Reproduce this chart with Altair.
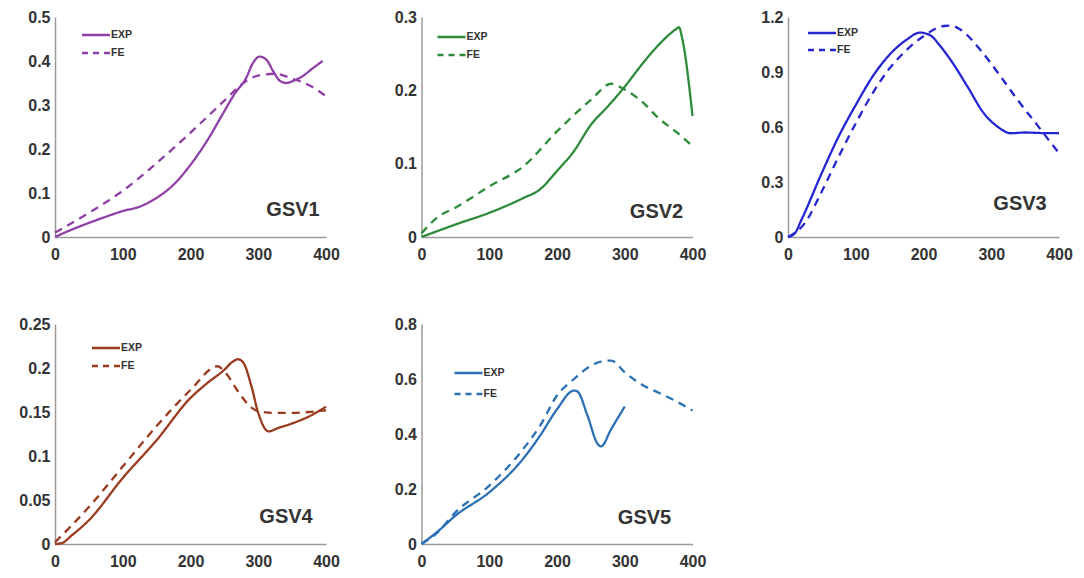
import altair as alt
import pandas as pd

# ---- data ----
exp1_x = [0, 25, 50, 75, 100, 125, 150, 175, 200, 225, 250, 265, 282, 292, 302, 312, 322, 332, 342, 352, 365, 380, 395]
exp1_y = [0, 0.017, 0.032, 0.046, 0.059, 0.069, 0.089, 0.119, 0.164, 0.22, 0.286, 0.325, 0.361, 0.395, 0.41, 0.403, 0.377, 0.355, 0.35, 0.355, 0.365, 0.383, 0.40]
fe1_x = [0, 50, 100, 150, 200, 250, 280, 300, 325, 350, 375, 400]
fe1_y = [0.01, 0.055, 0.105, 0.168, 0.237, 0.31, 0.352, 0.367, 0.371, 0.36, 0.345, 0.32]

exp2_x = [0, 50, 100, 150, 175, 200, 225, 250, 275, 300, 325, 350, 375, 380, 385, 400]
exp2_y = [0, 0.017, 0.033, 0.053, 0.065, 0.09, 0.117, 0.153, 0.178, 0.205, 0.235, 0.262, 0.283, 0.286, 0.27, 0.165]
fe2_x = [0, 25, 50, 100, 150, 200, 250, 280, 300, 325, 350, 375, 400]
fe2_y = [0.005, 0.028, 0.04, 0.069, 0.096, 0.144, 0.187, 0.209, 0.201, 0.185, 0.162, 0.144, 0.124]

exp3_x = [0, 10, 20, 50, 75, 100, 125, 150, 175, 195, 210, 225, 240, 265, 289, 310, 329, 350, 375, 400]
exp3_y = [0, 0.02, 0.095, 0.35, 0.55, 0.72, 0.876, 0.995, 1.076, 1.115, 1.10, 1.04, 0.966, 0.82, 0.675, 0.6, 0.566, 0.57, 0.567, 0.566]
fe3_x = [0, 25, 50, 75, 100, 125, 150, 175, 200, 230, 240, 255, 284, 314, 339, 368, 383, 400]
fe3_y = [0, 0.076, 0.25, 0.44, 0.62, 0.785, 0.92, 1.02, 1.095, 1.151, 1.153, 1.13, 1.02, 0.875, 0.747, 0.61, 0.538, 0.457]

exp4_x = [0, 10, 25, 50, 100, 150, 200, 225, 250, 262, 270, 278, 290, 300, 315, 330, 350, 375, 400]
exp4_y = [0, 0.001, 0.01, 0.027, 0.075, 0.118, 0.166, 0.183, 0.198, 0.207, 0.21, 0.206, 0.179, 0.149, 0.128, 0.132, 0.137, 0.145, 0.156]
fe4_x = [0, 50, 100, 150, 200, 240, 250, 275, 290, 300, 325, 350, 375, 400]
fe4_y = [0.002, 0.042, 0.088, 0.134, 0.175, 0.202, 0.196, 0.168, 0.155, 0.151, 0.149, 0.149, 0.15, 0.152]

exp5_x = [0, 25, 50, 100, 150, 175, 200, 225, 230, 245, 260, 265, 280, 300]
exp5_y = [0, 0.048, 0.103, 0.188, 0.31, 0.394, 0.49, 0.558, 0.555, 0.467, 0.364, 0.355, 0.418, 0.5]
fe5_x = [0, 25, 50, 100, 150, 175, 200, 225, 250, 275, 280, 300, 325, 350, 375, 400]
fe5_y = [0, 0.045, 0.115, 0.212, 0.345, 0.43, 0.54, 0.6, 0.648, 0.667, 0.667, 0.624, 0.58, 0.55, 0.52, 0.485]

series_names = ["EXP", "FE"]
panel_titles = ["GSV1", "GSV2", "GSV3", "GSV4", "GSV5"]
panel_colors = ["#8f40a6", "#2e8b3a", "#2626d0", "#9a3a1f", "#2b70b4"]
y_maxes = [0.5, 0.3, 1.2, 0.25, 0.8]
y_ticks = [
    [0, 0.1, 0.2, 0.3, 0.4, 0.5],
    [0, 0.1, 0.2, 0.3],
    [0, 0.3, 0.6, 0.9, 1.2],
    [0, 0.05, 0.1, 0.15, 0.2, 0.25],
    [0, 0.2, 0.4, 0.6, 0.8],
]
x_ticks = [0, 100, 200, 300, 400]

panel_data = [
    (exp1_x, exp1_y, fe1_x, fe1_y),
    (exp2_x, exp2_y, fe2_x, fe2_y),
    (exp3_x, exp3_y, fe3_x, fe3_y),
    (exp4_x, exp4_y, fe4_x, fe4_y),
    (exp5_x, exp5_y, fe5_x, fe5_y),
]

# legend placement (pixels inside each plot) and label placement
legend_pos = [(27, 18, 18), (16, 20, 18), (20, 16, 17), (37, 24, 18), (33, 49, 21)]
label_pos = [(238, 193), (235, 195), (232, 187), (231, 193), (223, 194)]

W, H = 271, 220
FONT = "Liberation Sans"
DASH = [8, 6]


def panel(i):
    ex, ey, fx, fy = panel_data[i]
    color = panel_colors[i]
    df = pd.DataFrame({
        "x": list(ex) + list(fx),
        "y": list(ey) + list(fy),
        "series": [series_names[0]] * len(ex) + [series_names[1]] * len(fx),
    })
    lines = alt.Chart(df).mark_line(strokeWidth=2.3, interpolate="monotone", color=color).encode(
        x=alt.X("x:Q", scale=alt.Scale(domain=[0, 400], nice=False),
                axis=alt.Axis(values=x_ticks, title=None, format="d", labelPadding=9,
                              labelFlush=False)),
        y=alt.Y("y:Q", scale=alt.Scale(domain=[0, y_maxes[i]], nice=False),
                axis=alt.Axis(values=y_ticks[i], title=None, format=".2~f", labelPadding=5,
                              labelFlush=False)),
        strokeDash=alt.StrokeDash("series:N", scale=alt.Scale(domain=series_names, range=[[1, 0], DASH]),
                                  legend=None),
    )
    lx, ly, dy = legend_pos[i]
    layers = [lines]
    for k, name in enumerate(series_names):
        d = pd.DataFrame({"s": [name]})
        rule = alt.Chart(d).mark_rule(color=color, strokeWidth=2.5,
                                      strokeDash=[1, 0] if k == 0 else [6, 5]).encode(
            x=alt.value(lx), x2=alt.value(lx + 28), y=alt.value(ly + k * dy))
        txt = alt.Chart(d).mark_text(align="left", baseline="middle", font=FONT, fontSize=10.5,
                                     fontWeight="bold", color="#333").encode(
            x=alt.value(lx + 29), y=alt.value(ly + k * dy), text="s:N")
        layers += [rule, txt]
    tx, ty = label_pos[i]
    title = alt.Chart(pd.DataFrame({"t": [panel_titles[i]]})).mark_text(
        align="center", baseline="middle", font=FONT, fontSize=20, fontWeight="bold", color="#333"
    ).encode(x=alt.value(tx), y=alt.value(ty), text="t:N")
    layers.append(title)
    return alt.layer(*layers).properties(width=W, height=H)


row1 = alt.hconcat(panel(0), panel(1), panel(2), spacing=95.5, bounds="flush")
row2 = alt.hconcat(panel(3), panel(4), spacing=95.5, bounds="flush")
chart = alt.vconcat(row1, row2, spacing=51).properties(
    padding={"left": 15, "top": 9, "right": 5, "bottom": 5}
).configure_view(stroke=None).configure_axis(
    grid=False, ticks=False, domainColor="#9a9a9a", domainWidth=1.5,
    labelFont=FONT, labelFontWeight="bold", labelFontSize=16, labelColor="#333",
).configure_axisY(minExtent=40, maxExtent=40).configure_axisX(minExtent=28, maxExtent=28)

chart.save("out.html", embed_options={"renderer": "svg", "actions": False})
